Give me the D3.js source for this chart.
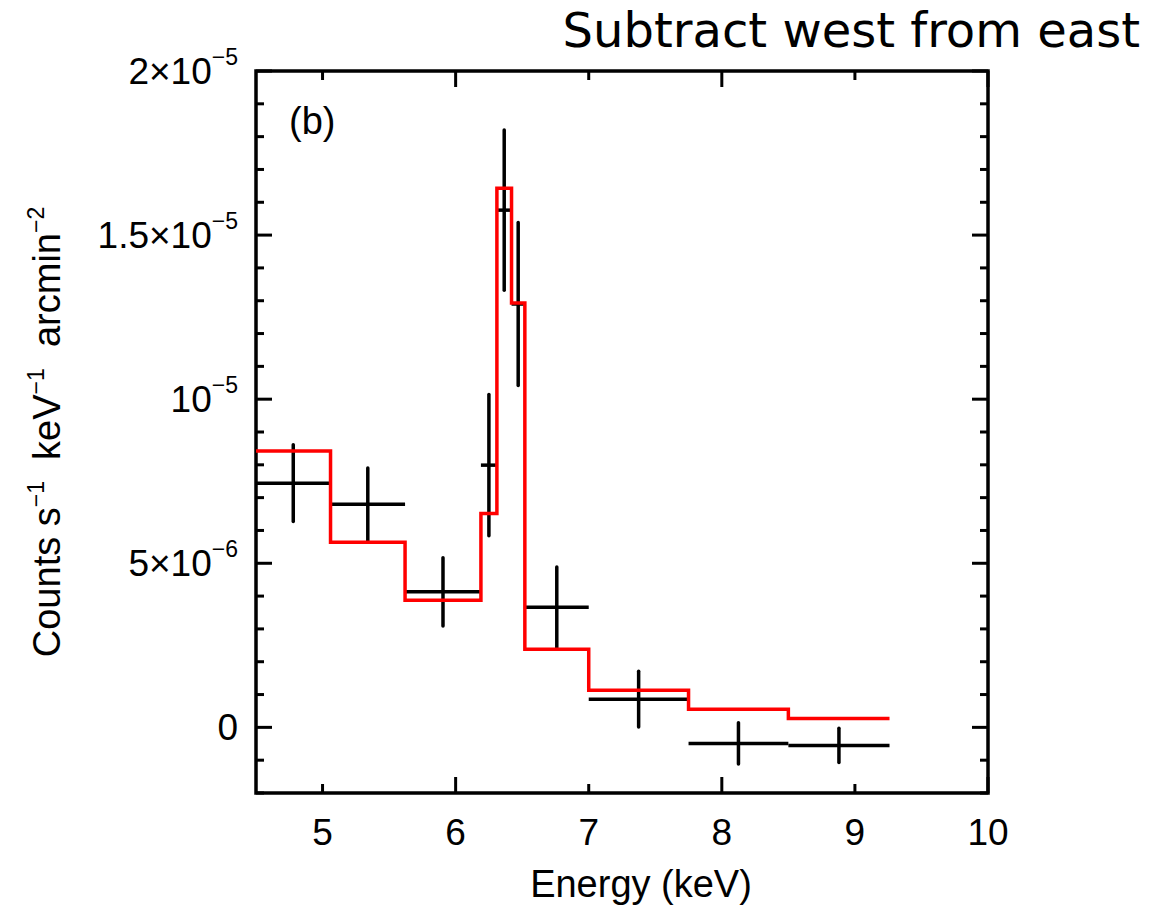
<!DOCTYPE html>
<html>
<head>
<meta charset="utf-8">
<script src="https://cdn.jsdelivr.net/npm/d3@7"></script>
<style>
  body { margin: 0; background: #fff; }
  text { font-family: "Liberation Sans", Arial, sans-serif; fill: #000; }
</style>
</head>
<body>
<div id="chart"></div>
<script>
const width = 1169;
const height = 906;
const margin = { top: 71, right: 181, bottom: 113, left: 256 };

// spectrum bins (keV)
const binLo = [4.5, 5.06, 5.62, 6.19, 6.31, 6.42, 6.52, 7.0, 7.75, 8.5];
const binHi = [5.06, 5.62, 6.19, 6.31, 6.42, 6.52, 7.0, 7.75, 8.5, 9.26];
// data, counts s^-1 keV^-1 arcmin^-2 (units of 1e-6)
const dataY = [7.44, 6.80, 4.13, 7.99, 15.76, 12.9, 3.66, 0.86, -0.49, -0.55];
const dataErr = [1.17, 1.10, 1.04, 2.15, 2.44, 2.48, 1.23, 0.85, 0.63, 0.52];
// model
const modelY = [8.42, 5.64, 3.87, 6.52, 16.43, 12.93, 2.38, 1.13, 0.55, 0.27];

const xTicks = [5, 6, 7, 8, 9, 10];
const xLongTicks = [6, 8, 10];
const yMajor = [0, 5, 10, 15, 20];
const yLabels = [["0", ""], ["5×10", "−6"], ["10", "−5"], ["1.5×10", "−5"], ["2×10", "−5"]];

const svg = d3.select("#chart")
    .append("svg")
    .attr("width", width)
    .attr("height", height);

const iw = width - margin.left - margin.right;
const ih = height - margin.top - margin.bottom;

const x = d3.scaleLinear().domain([4.5, 10]).range([margin.left, margin.left + iw]);
const y = d3.scaleLinear().domain([-2, 20]).range([margin.top + ih, margin.top]);

const g = svg.append("g");

// ticks (inward, all four sides)
const yMinor = d3.range(-2, 21, 1);
yMinor.forEach(v => {
    const len = v % 5 === 0 ? 16 : 8;
    g.append("line").attr("x1", x(4.5)).attr("x2", x(4.5) + len)
        .attr("y1", y(v)).attr("y2", y(v)).attr("stroke", "#000").attr("stroke-width", 3);
    g.append("line").attr("x1", x(10)).attr("x2", x(10) - len)
        .attr("y1", y(v)).attr("y2", y(v)).attr("stroke", "#000").attr("stroke-width", 3);
});
xTicks.forEach(v => {
    const len = xLongTicks.includes(v) ? 16 : 9;
    g.append("line").attr("x1", x(v)).attr("x2", x(v))
        .attr("y1", y(-2)).attr("y2", y(-2) - len).attr("stroke", "#000").attr("stroke-width", 3);
    g.append("line").attr("x1", x(v)).attr("x2", x(v))
        .attr("y1", y(20)).attr("y2", y(20) + len).attr("stroke", "#000").attr("stroke-width", 3);
});

// frame
g.append("rect")
    .attr("x", margin.left).attr("y", margin.top)
    .attr("width", iw).attr("height", ih)
    .attr("fill", "none").attr("stroke", "#000").attr("stroke-width", 3.5);

// x tick labels
g.selectAll(".xl").data(xTicks).enter().append("text")
    .attr("x", d => x(d)).attr("y", y(-2) + 52)
    .attr("text-anchor", "middle")
    .style("font-size", "37px")
    .text(d => d);

// y tick labels
yMajor.forEach((v, i) => {
    const t = g.append("text")
        .attr("x", x(4.5) - 18).attr("y", y(v) + 13)
        .attr("text-anchor", "end")
        .style("font-size", "37px");
    t.append("tspan").text(yLabels[i][0]);
    if (yLabels[i][1]) {
        t.append("tspan").attr("dy", -19).style("font-size", "23px").text(yLabels[i][1]);
    }
});

// axis titles
svg.append("text")
    .attr("x", 641).attr("y", 897)
    .attr("text-anchor", "middle")
    .style("font-size", "38px")
    .text("Energy (keV)");

const yt = svg.append("text")
    .attr("transform", `translate(60, ${y(9)}) rotate(-90)`)
    .attr("text-anchor", "middle")
    .style("font-size", "38px")
    .style("white-space", "pre");
yt.append("tspan").text("Counts s");
yt.append("tspan").attr("dy", -16).style("font-size", "23px").text("−1");
yt.append("tspan").attr("dy", 16).text("  keV");
yt.append("tspan").attr("dy", -16).style("font-size", "23px").text("−1");
yt.append("tspan").attr("dy", 16).text("  arcmin");
yt.append("tspan").attr("dy", -16).style("font-size", "23px").text("−2");

// panel label
svg.append("text")
    .attr("x", 289).attr("y", 134)
    .style("font-size", "38px")
    .text("(b)");

// title
svg.append("text")
    .attr("x", 1140).attr("y", 47)
    .attr("text-anchor", "end")
    .style("font-family", "'DejaVu Sans', sans-serif")
    .style("font-size", "48px")
    .text("Subtract west from east");

// data crosses
const pts = binLo.map((lo, i) => ({ lo, hi: binHi[i], v: dataY[i], e: dataErr[i] }));
const cross = g.append("g").attr("stroke", "#000").attr("stroke-width", 3.5);
cross.selectAll(".h").data(pts).enter().append("line")
    .attr("x1", d => x(d.lo)).attr("x2", d => x(d.hi))
    .attr("y1", d => y(d.v)).attr("y2", d => y(d.v));
cross.selectAll(".v").data(pts).enter().append("line")
    .attr("x1", d => x((d.lo + d.hi) / 2)).attr("x2", d => x((d.lo + d.hi) / 2))
    .attr("y1", d => y(d.v - d.e)).attr("y2", d => y(d.v + d.e))
    .attr("stroke-linecap", "round");

// model step
const stepPts = binLo.map((lo, i) => [lo, modelY[i]]);
stepPts.push([binHi[binHi.length - 1], modelY[modelY.length - 1]]);
const line = d3.line()
    .x(d => x(d[0])).y(d => y(d[1]))
    .curve(d3.curveStepAfter);
g.append("path")
    .datum(stepPts)
    .attr("d", line)
    .attr("fill", "none")
    .attr("stroke", "#ff0000")
    .attr("stroke-width", 3.5);
</script>
</body>
</html>
